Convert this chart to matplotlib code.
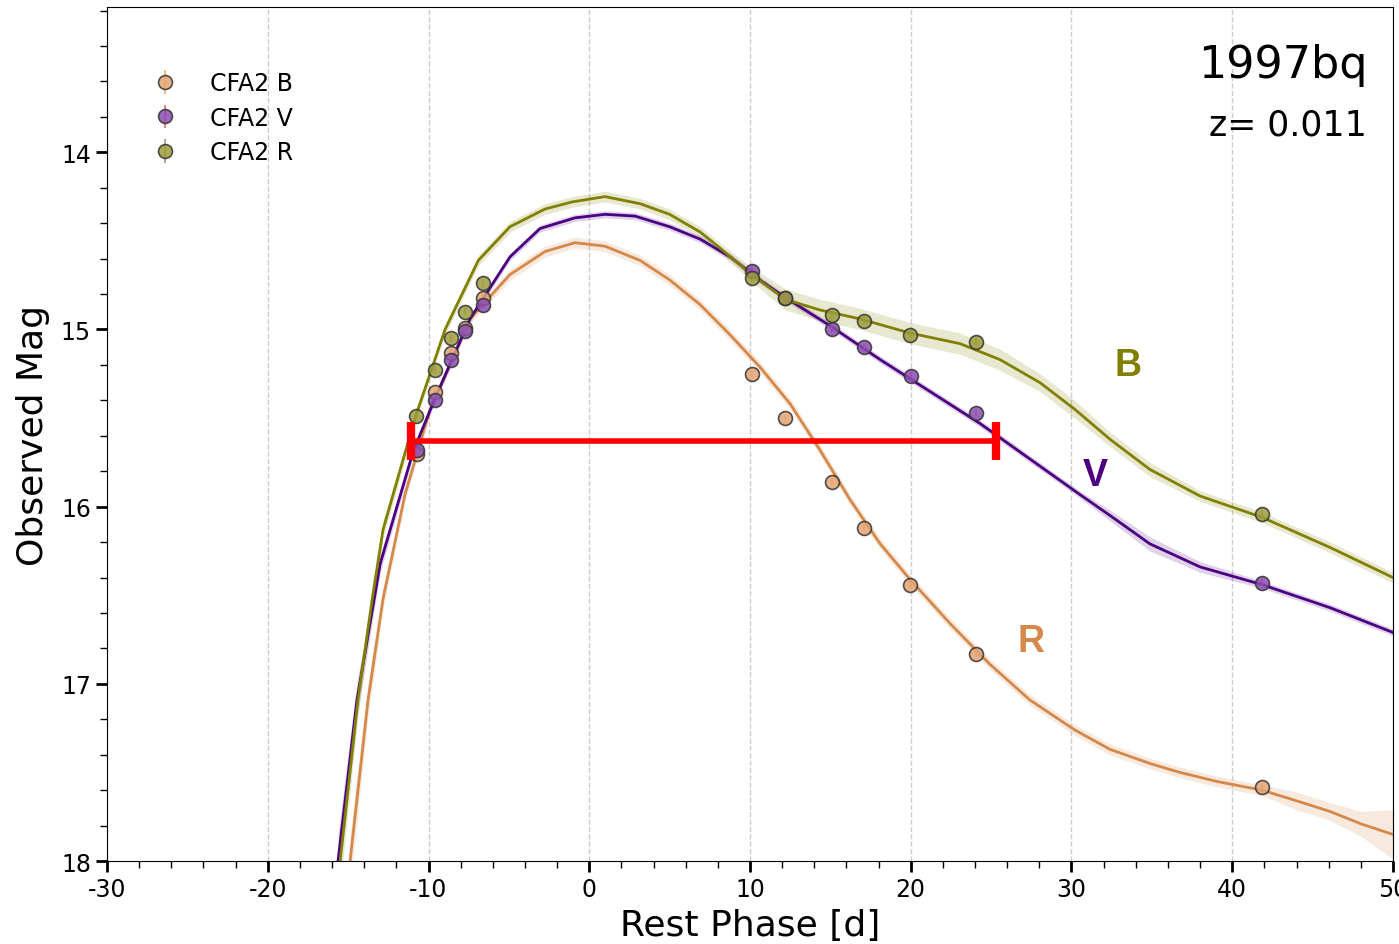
import numpy as np
import matplotlib
matplotlib.use("Agg")
import matplotlib.pyplot as plt
from matplotlib.ticker import MultipleLocator

plt.rcParams["axes.unicode_minus"] = False

# observed photometry (rest phase [d], mag)
b_phase = [-10.72, -9.6, -8.6, -7.73, -6.6, 10.12, 12.18, 15.1, 17.1, 19.95, 24.06, 41.85]
b_mag = [15.70, 15.35, 15.13, 14.99, 14.82, 15.25, 15.50, 15.86, 16.12, 16.44, 16.83, 17.58]

v_phase = [-10.72, -9.6, -8.6, -7.73, -6.6, 10.12, 12.18, 15.1, 17.1, 20.0, 24.06, 41.85]
v_mag = [15.68, 15.40, 15.17, 15.01, 14.86, 14.67, 14.82, 15.00, 15.10, 15.26, 15.47, 16.43]

r_phase = [-10.78, -9.6, -8.6, -7.73, -6.6, 10.12, 12.18, 15.1, 17.1, 19.95, 24.06, 41.85]
r_mag = [15.49, 15.23, 15.05, 14.90, 14.74, 14.71, 14.82, 14.92, 14.95, 15.03, 15.07, 16.04]

# model light curves
b_fit_x = [-14.88, -13.76, -12.83, -11.46, -9.9, -7.42, -4.93, -2.75, -0.89, 0.98, 3.16, 5.0,
           6.9, 8.76, 10.6, 12.5, 14.35, 16.22, 18.1, 19.95, 22.45, 24.93, 27.4, 30.2, 32.4,
           34.9, 36.75, 39.0, 41.85, 44.0, 46.08, 48.0, 50.0]
b_fit_y = [18.0, 17.09, 16.52, 15.93, 15.45, 14.94, 14.69, 14.56, 14.51, 14.53, 14.61, 14.72,
           14.86, 15.03, 15.21, 15.42, 15.68, 15.96, 16.21, 16.41, 16.66, 16.89, 17.09, 17.26, 17.37,
           17.45, 17.50, 17.55, 17.60, 17.66, 17.72, 17.79, 17.85]
b_fit_err = [0.15, 0.10, 0.06, 0.04, 0.03, 0.03, 0.03, 0.03, 0.03, 0.03, 0.03, 0.03,
             0.03, 0.03, 0.03, 0.03, 0.03, 0.03, 0.03, 0.03, 0.03, 0.03, 0.03, 0.03, 0.03,
             0.03, 0.03, 0.03, 0.03, 0.05, 0.05, 0.07, 0.14]

v_fit_x = [-15.63, -14.45, -13.0, -10.96, -9.6, -7.42, -4.93, -3.06, -0.89, 0.98, 2.85, 5.0,
           6.9, 8.76, 10.6, 12.2, 15.0, 18.1, 21.2, 24.3, 27.4, 30.5, 32.4, 34.88, 38.0, 41.85,
           46.08, 50.0]
v_fit_y = [18.0, 17.09, 16.32, 15.69, 15.39, 14.94, 14.59, 14.43, 14.37, 14.35, 14.36, 14.42,
           14.49, 14.59, 14.72, 14.82, 14.98, 15.17, 15.35, 15.53, 15.73, 15.93, 16.05, 16.21, 16.34, 16.44,
           16.57, 16.71]
v_fit_err = [0.15, 0.10, 0.05, 0.03, 0.02, 0.02, 0.02, 0.02, 0.02, 0.02, 0.02, 0.02,
             0.02, 0.02, 0.02, 0.02, 0.02, 0.02, 0.02, 0.02, 0.02, 0.02, 0.03, 0.04, 0.03, 0.02,
             0.02, 0.02]

r_fit_x = [-15.5, -14.39, -13.5, -12.83, -10.84, -8.97, -6.9, -4.93, -2.75, -1.07, 0.98, 3.16,
           5.0, 6.9, 8.13, 10.1, 12.2, 14.35, 16.84, 19.95, 23.07, 25.55, 28.04, 30.2, 32.4,
           34.88, 38.0, 41.85, 46.08, 50.0]
r_fit_y = [18.0, 17.09, 16.52, 16.13, 15.50, 15.00, 14.61, 14.42, 14.32, 14.28, 14.25, 14.29,
           14.35, 14.45, 14.54, 14.69, 14.83, 14.89, 14.94, 15.02, 15.08, 15.17, 15.30, 15.45, 15.62,
           15.79, 15.94, 16.06, 16.23, 16.40]
r_fit_err = [0.15, 0.10, 0.06, 0.05, 0.03, 0.03, 0.03, 0.03, 0.03, 0.03, 0.03, 0.03,
             0.03, 0.03, 0.03, 0.04, 0.06, 0.06, 0.06, 0.06, 0.06, 0.06, 0.05, 0.05, 0.04,
             0.04, 0.03, 0.03, 0.03, 0.03]

# stretch marker
stretch_x = [-11.1, 25.3]
stretch_y = 15.63

sn_name = "1997bq"
sn_z = "z= 0.011"

fig = plt.figure(figsize=(13.99, 9.45), dpi=100)
ax = fig.add_axes([0.0765, 0.0878, 0.9192, 0.9037])

series = [
    ("CFA2 B", b_phase, b_mag, b_fit_x, b_fit_y, b_fit_err, "#d4884a", "#e3a574", "#f0a050"),
    ("CFA2 V", v_phase, v_mag, v_fit_x, v_fit_y, v_fit_err, "#4b0082", "#8a4db3", "#e05050"),
    ("CFA2 R", r_phase, r_mag, r_fit_x, r_fit_y, r_fit_err, "#808000", "#9c9c3c", "#a08060"),
]

for label, px, py, fx, fy, fe, lc, mc, ec in series:
    fx = np.array(fx)
    fy = np.array(fy)
    fe = np.array(fe)
    ax.fill_between(fx, fy - fe, fy + fe, color=lc, alpha=0.18, lw=0)
    ax.plot(fx, fy, color=lc, lw=2)

for label, px, py, fx, fy, fe, lc, mc, ec in series:
    ax.errorbar(px, py, yerr=0.02, fmt="o", ms=10, mfc=mc, mec="#333333", mew=1.2,
                alpha=0.85, ecolor=ec, elinewidth=1.2, label=label, zorder=5)

ax.errorbar([np.mean(stretch_x)], [stretch_y], xerr=[(stretch_x[1] - stretch_x[0]) / 2],
            fmt="none", ecolor="red", elinewidth=4, capsize=14, capthick=6, zorder=6)

ax.text(33.5, 15.2, "B", color="#808000", fontsize=27, fontweight="bold",
        family="Liberation Sans", ha="center", va="center")
ax.text(31.5, 15.82, "V", color="#4b0082", fontsize=27, fontweight="bold",
        family="Liberation Sans", ha="center", va="center")
ax.text(27.5, 16.76, "R", color="#d4884a", fontsize=27, fontweight="bold",
        family="Liberation Sans", ha="center", va="center")

ax.text(0.98, 0.918, sn_name, transform=ax.transAxes, fontsize=32, ha="right", va="baseline")
ax.text(0.98, 0.851, sn_z, transform=ax.transAxes, fontsize=25, ha="right", va="baseline")

ax.set_xlim(-30, 50)
ax.set_ylim(18, 13.18)
ax.xaxis.set_major_locator(MultipleLocator(10))
ax.xaxis.set_minor_locator(MultipleLocator(2))
ax.yaxis.set_major_locator(MultipleLocator(1))
ax.yaxis.set_minor_locator(MultipleLocator(0.2))
ax.tick_params(which="major", direction="out", length=8, width=2, labelsize=17)
ax.tick_params(which="minor", direction="out", length=5, width=1)
ax.xaxis.grid(True, which="major", ls="--", color="#cccccc", lw=1)
ax.set_axisbelow(True)

ax.set_xlabel("Rest Phase [d]", fontsize=26, labelpad=5)
ax.set_ylabel("Observed Mag", fontsize=26, labelpad=8)

ax.legend(loc="upper left", bbox_to_anchor=(0.01, 0.95), frameon=False, fontsize=17,
          handletextpad=0.9, labelspacing=0.45)

fig.savefig("out.png", dpi=100)
